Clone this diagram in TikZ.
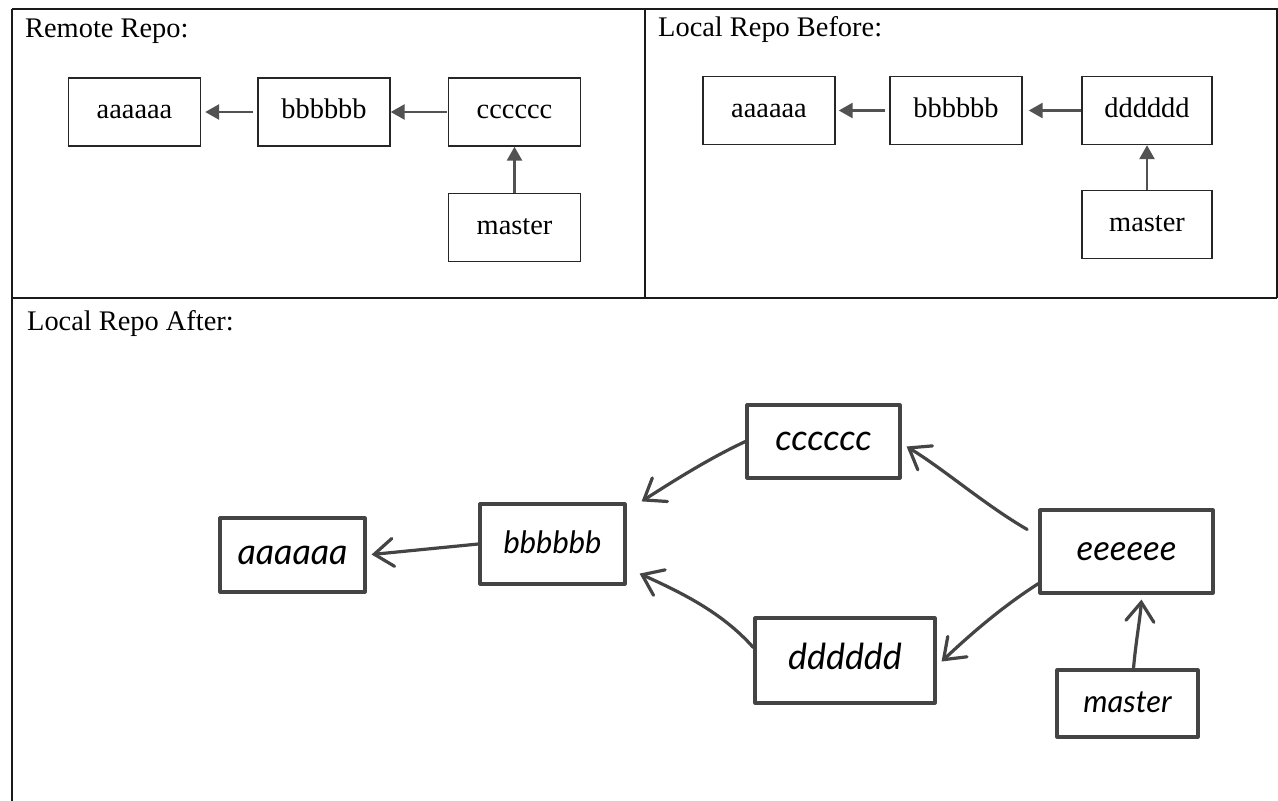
\documentclass[tikz,border=0pt]{standalone}
\usepackage{fontspec}
\setmainfont{Liberation Serif}
\newfontfamily\handfont{Lato}
\usetikzlibrary{arrows.meta,calc}
\definecolor{hand}{HTML}{444444}
\definecolor{frame}{HTML}{1A1A1A}
\begin{document}
\begin{tikzpicture}[x=1bp,y=-1bp,
  framel/.style={draw=frame, line width=1.3bp},
  lbl/.style={anchor=base west, inner sep=0pt, font=\fontsize{28.5}{34}\selectfont},
  tbox/.style={draw=black!85, line width=1.4bp, minimum width=132bp, minimum height=68bp,
    inner sep=0pt, text height=20bp, text depth=6bp, font=\fontsize{28.5}{34}\selectfont},
  tarrow/.style={draw=black!68, line width=2.6bp,
    -{Triangle[length=14bp,width=15bp]}},
  hbox/.style={draw=hand, line width=3.2bp, inner sep=0pt, line join=round,
    text height=24bp, text depth=6bp,
    font=\handfont\itshape\fontsize{36}{42}\selectfont},
  harrow/.style={draw=hand, line width=3.2bp, line cap=round,
    -{Straight Barb[length=19bp,width=28bp,line cap=round]}}
]
\useasboundingbox (0,0) rectangle (1278,801);
\fill[white] (0,0) rectangle (1278,801);

% frame
\draw[framel] (12,9) -- (1277,9) -- (1277,298);
\draw[framel] (12,9) -- (12,801);
\draw[framel] (12,298) -- (1277,298);
\draw[framel] (645,9) -- (645,298);

% panel titles
\node[lbl] (t1) at (25,38) {Remote Repo:};
\node[lbl] (t2) at (658,37) {Local Repo Before:};
\node[lbl] (t3) at (27,330) {Local Repo After:};

% remote repo
\node[tbox] (ra) at (134.5,112) {aaaaaa};
\node[tbox] (rb) at (324,112) {bbbbbb};
\node[tbox] (rc) at (514.5,112) {cccccc};
\node[tbox] (rm) at (514.5,227.5) {master};
\draw[tarrow, shorten >=4bp, shorten <=4bp] (rb.west) -- (ra.east);
\draw[tarrow, shorten <=1bp] (rc.west) -- (rb.east);
\draw[tarrow] (rm.north) -- (rc.south);

% local repo before
\node[tbox] (la) at (769,110.5) {aaaaaa};
\node[tbox] (lb) at (956,110.5) {bbbbbb};
\node[tbox, minimum width=130bp] (ld) at (1147,110.5) {dddddd};
\node[tbox, minimum width=130bp] (lm) at (1147,224.5) {master};
\draw[tarrow, shorten >=3bp, shorten <=4bp] (lb.west) -- (la.east);
\draw[tarrow, shorten >=6bp] (ld.west) -- (lb.east);
\draw[tarrow] (lm.north) -- (ld.south);

% local repo after (hand drawn)
\node[hbox, minimum width=145bp, minimum height=74bp] (ha) at (292.5,555) {aaaaaa};
\node[hbox, minimum width=145bp, minimum height=80bp,
  font=\handfont\itshape\fontsize{31}{36}\selectfont] (hb) at (552.5,544) {bbbbbb};
\node[hbox, minimum width=153bp, minimum height=73bp] (hc) at (823.5,441.5) {cccccc};
\node[hbox, minimum width=180bp, minimum height=85bp] (hd) at (845,660.5) {dddddd};
\node[hbox, minimum width=173bp, minimum height=83bp,
  font=\handfont\itshape\fontsize{35}{40}\selectfont] (he) at (1126.5,551.5) {eeeeee};
\node[hbox, minimum width=141bp, minimum height=67bp,
  font=\handfont\itshape\fontsize{31}{36}\selectfont] (hm) at (1127.5,703.5) {master};

\coordinate (tcb) at ($(hb.north east)+(15,-1)$);
\coordinate (tdb) at ($(hb.south east)+(13,-12)$);
\coordinate (tec) at ($(hc.east)+(5,5)$);
\coordinate (ted) at ($(hd.east)+(5,1)$);
\coordinate (tme) at ($(he.south)+(15,5)$);
\coordinate (sme) at ($(hm.north)+(6,0)$);

\draw[harrow, shorten >=5bp] (hb.west) -- (ha.east);
\draw[harrow] (hc.west) .. controls (710,458) and (675,480) .. (tcb);
\draw[harrow] (hd.172) .. controls (722,612) and (680,592) .. (tdb);
\draw[harrow, shorten <=13bp] (he.170) .. controls (985,505) and (945,470) .. (tec);
\draw[harrow] (he.200) .. controls (1005,605) and (975,630) .. (ted);
\draw[harrow] (sme) .. controls (1136,640) and (1140,620) .. (tme);
\end{tikzpicture}
\end{document}
